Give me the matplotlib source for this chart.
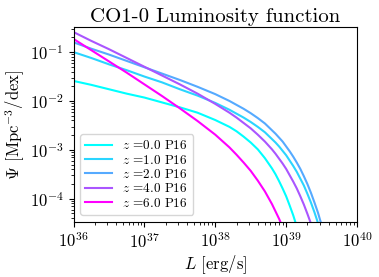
import numpy as np
import matplotlib
matplotlib.use("Agg")
import matplotlib.pyplot as plt
from matplotlib.ticker import LogLocator

plt.rcParams["font.family"] = "serif"
plt.rcParams["font.serif"] = ["cmr10", "DejaVu Serif"]
plt.rcParams["mathtext.fontset"] = "cm"
plt.rcParams["axes.unicode_minus"] = False
plt.rcParams["axes.formatter.use_mathtext"] = True

# log10 L [erg/s] sample points
log_L = [36, 36.25, 36.5, 36.75, 37, 37.25, 37.5, 37.75, 38, 38.1, 38.2, 38.3, 38.4, 38.5, 38.6, 38.7, 38.8,
         38.85, 38.9, 38.95, 39.0, 39.05, 39.1, 39.15, 39.2, 39.25, 39.3, 39.35, 39.4, 39.45, 39.5, 39.55]

# log10 Psi [Mpc^-3/dex] for each redshift
log_psi_z0 = [-1.59, -1.67, -1.76, -1.85, -1.93, -2.03, -2.13, -2.24, -2.39, -2.46, -2.53, -2.62, -2.73, -2.85, -2.99, -3.17,
              -3.38, -3.50, -3.64, -3.79, -3.95, -4.14, -4.34, -4.57, -4.82, -5.10, -5.42, -5.77, -6.16, -6.60, -7.09, -7.63]
log_psi_z1 = [-1.00, -1.12, -1.25, -1.37, -1.50, -1.62, -1.76, -1.89, -2.04, -2.11, -2.18, -2.26, -2.34, -2.43, -2.53, -2.64,
              -2.78, -2.85, -2.93, -3.02, -3.11, -3.22, -3.33, -3.45, -3.59, -3.73, -3.90, -4.08, -4.28, -4.50, -4.75, -5.02]
log_psi_z2 = [-0.80, -0.93, -1.05, -1.18, -1.31, -1.44, -1.57, -1.71, -1.86, -1.93, -2.00, -2.08, -2.16, -2.25, -2.35, -2.46,
              -2.60, -2.67, -2.75, -2.83, -2.93, -3.03, -3.14, -3.26, -3.39, -3.54, -3.70, -3.88, -4.08, -4.29, -4.54, -4.80]
log_psi_z4 = [-0.59, -0.77, -0.94, -1.12, -1.30, -1.48, -1.66, -1.85, -2.06, -2.15, -2.24, -2.34, -2.45, -2.56, -2.69, -2.83,
              -2.99, -3.08, -3.18, -3.28, -3.39, -3.52, -3.65, -3.79, -3.95, -4.12, -4.31, -4.51, -4.74, -4.99, -5.27, -5.57]
log_psi_z6 = [-0.73, -0.96, -1.19, -1.42, -1.66, -1.90, -2.15, -2.41, -2.69, -2.82, -2.95, -3.10, -3.26, -3.43, -3.63, -3.85,
              -4.11, -4.26, -4.41, -4.58, -4.77, -4.97, -5.19, -5.43, -5.70, -6.00, -6.32, -6.68, -7.07, -7.51, -8.00, -8.54]

redshifts = [0.0, 1.0, 2.0, 4.0, 6.0]
series = [log_psi_z0, log_psi_z1, log_psi_z2, log_psi_z4, log_psi_z6]

fig = plt.figure(figsize=(3.79, 2.77), dpi=100)
ax = fig.add_axes([0.194, 0.200, 0.748, 0.701])

L = 10 ** np.array(log_L)
for z, lp in zip(redshifts, series):
    ax.plot(L, 10 ** np.array(lp), color=plt.cm.cool(z / 6.0), lw=1.5,
            label=r"$z$ =%.1f P16" % z)

ax.set_xscale("log")
ax.set_yscale("log")
ax.set_xlim(1e36, 1e40)
ax.set_ylim(3.4e-5, 3.2e-1)
ax.xaxis.set_major_locator(LogLocator(base=10, numticks=10))
ax.xaxis.set_minor_locator(LogLocator(base=10, subs=np.arange(2, 10), numticks=50))
ax.tick_params(labelsize=12)
ax.set_xlabel(r"$L$ [erg/s]", fontsize=12, labelpad=2)
ax.set_ylabel(r"$\Psi$ [Mpc$^{-3}$/dex]", fontsize=12, labelpad=2)
ax.set_title("CO1-0 Luminosity function", fontsize=15, pad=4)
ax.legend(loc="lower left", fontsize=9.5, labelspacing=0.1, handlelength=2.0, borderpad=0.4)

fig.savefig("out.png", dpi=100)
